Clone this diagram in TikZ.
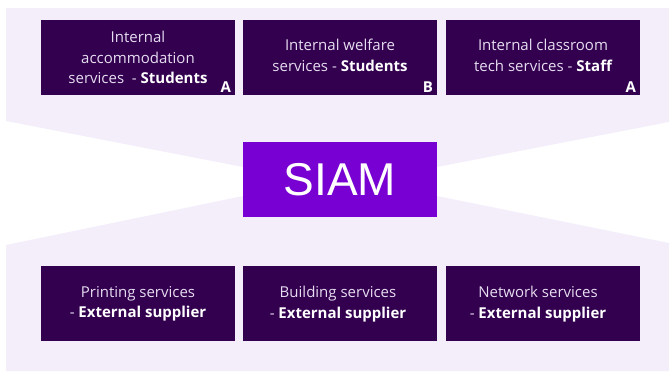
\documentclass[tikz,border=0pt]{standalone}
\usepackage{fontspec}
\setmainfont{Open Sans}
\newfontfamily\siamfont{Liberation Sans}
\usepackage{xcolor}
\usepackage{tikz}

\definecolor{bandlilac}{HTML}{F4EEFB}
\definecolor{boxplum}{HTML}{330050}
\definecolor{siamviolet}{HTML}{7800D2}
\definecolor{textlilac}{HTML}{E6DDF0}

\newcommand{\hl}[1]{\textbf{\color{white}#1}}

\begin{document}
\begin{tikzpicture}[x = 1pt,y = -1pt,
  svcbox/.style = {fill = boxplum,minimum width = 194pt,minimum height = 75pt,inner sep = 0pt},
  svctext/.style = {text = textlilac,align = center,inner sep = 0pt,font = \fontsize{15}{20.5}\selectfont},
  tag/.style = {text = white,inner sep = 0pt,anchor = base east,font = \fontsize{15}{15}\selectfont\bfseries}]
\useasboundingbox (0,0) rectangle (669,372);

\fill[bandlilac] (6,8) -- (669,8) -- (669,122) -- (437,167) -- (437,196) -- (669,243) -- (669,371)
  -- (6,371) -- (6,245) -- (243,196) -- (243,167) -- (6,121) -- cycle;


\node[svcbox] at(138,57.5) (acc) {};
\node[svcbox] at(340,57.5) (welf) {};
\node[svcbox] at(543,57.5) (tech) {};


\node[fill = siamviolet,minimum width = 194pt,minimum height = 75pt,inner sep = 0pt,text = white,
  font = \siamfont\fontsize{46}{46}\selectfont] at(340,179.5) (siam) {SIAM};


\node[svcbox] at(138,303.5) (print) {};
\node[svcbox] at(340,303.5) (build) {};
\node[svcbox] at(543,303.5) (net) {};


\node[svctext] at(acc) (acctxt) {Internal\\accommodation\\services~ - \hl{Students}};
\node[svctext] at(340,55.5) (welftxt) {Internal welfare\\services - \hl{Students}};
\node[svctext] at(543,55.5) (techtxt) {Internal classroom\\tech services - \hl{Staff}};


\node[svctext] at(138,304) (printtxt) {Printing services\\- \hl{External supplier}};
\node[svctext] at(338,304) (buildtxt) {Building services\\- \hl{External supplier}};
\node[svctext] at(538,304) (nettxt) {Network services\\- \hl{External supplier}};


\node[tag] at([shift = {(-4,-3)}]acc.south east) (acctag) {A};
\node[tag] at([shift = {(-4,-3)}]welf.south east) (welftag) {B};
\node[tag] at([shift = {(-4,-3)}]tech.south east) (techtag) {A};
\end{tikzpicture}
\end{document}
